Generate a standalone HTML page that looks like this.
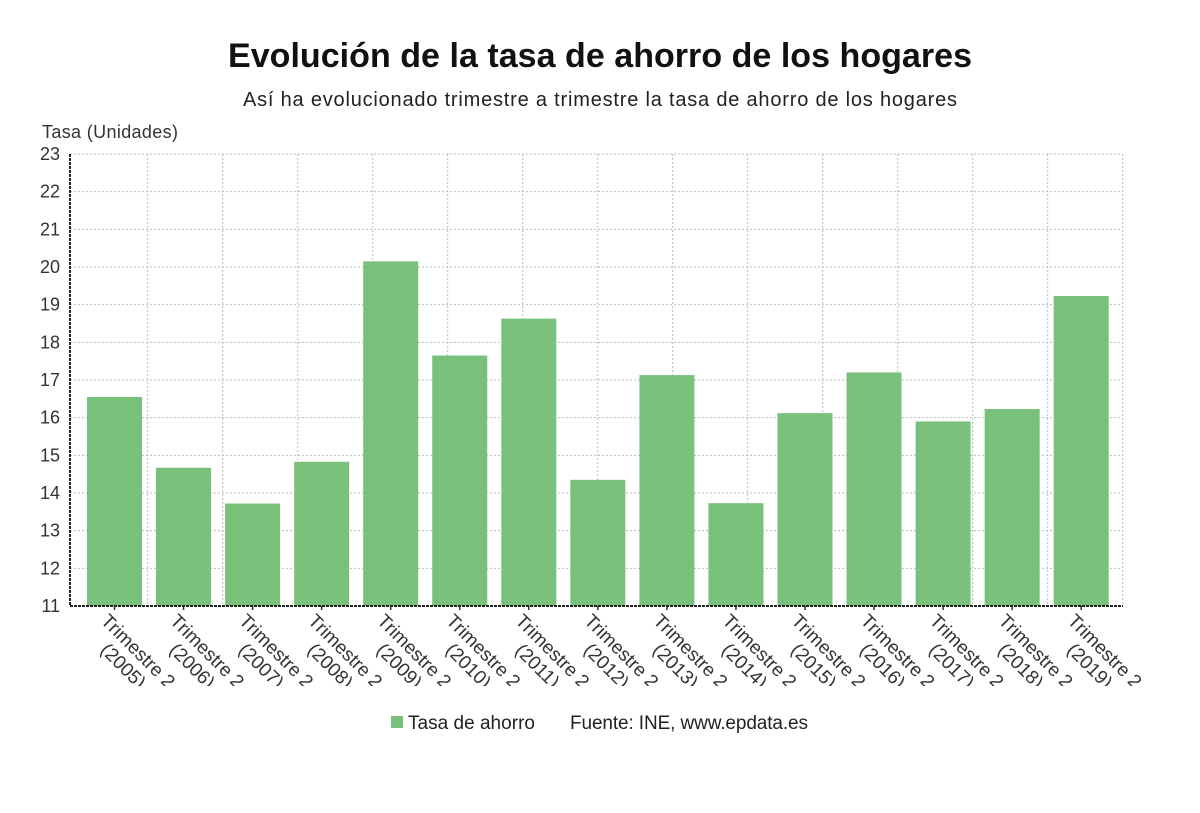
<!DOCTYPE html>
<html><head><meta charset="utf-8"><style>
body{margin:0;background:#fff;width:1200px;height:808px;overflow:hidden;font-family:"Liberation Sans",sans-serif;}
</style></head><body>
<svg width="1200" height="808" xmlns="http://www.w3.org/2000/svg">
<defs><clipPath id="lc"><rect x="0" y="606" width="1200" height="80"/></clipPath></defs>
<text x="600" y="67" text-anchor="middle" font-size="34" font-weight="bold" fill="#111" textLength="744">Evolución de la tasa de ahorro de los hogares</text>
<text x="600" y="106" text-anchor="middle" font-size="20" fill="#222" textLength="714">Así ha evolucionado trimestre a trimestre la tasa de ahorro de los hogares</text>
<text x="42" y="138" font-size="18" fill="#333" textLength="136">Tasa (Unidades)</text>
<g id="grid"></g>
<g id="bars"></g>
<g id="axes"></g>
<g id="xl" clip-path="url(#lc)"></g>
<rect x="391" y="716" width="12" height="12" fill="#79c07b"/>
<text x="408" y="729" font-size="19" fill="#222" textLength="127">Tasa de ahorro</text>
<text x="570" y="729" font-size="19" fill="#222" textLength="238">Fuente: INE, www.epdata.es</text>
</svg>
<script>
const categories=["2005","2006","2007","2008","2009","2010","2011","2012","2013","2014","2015","2016","2017","2018","2019"];
const values=[16.55,14.67,13.72,14.83,20.15,17.65,18.63,14.35,17.13,13.73,16.12,17.2,15.9,16.23,19.23];
const yTicks=[11,12,13,14,15,16,17,18,19,20,21,22,23];
const NS="http://www.w3.org/2000/svg";
const x0=70,x1=1122,yTop=154,yBot=606,yMin=11,yMax=23;
const y=v=>yBot-(v-yMin)/(yMax-yMin)*(yBot-yTop);
const pitch=69.05,bw=55,bStart=87;
const xc=i=>bStart+bw/2+i*pitch;
function mk(t,a,p){const e=document.createElementNS(NS,t);for(const k in a)e.setAttribute(k,a[k]);p.appendChild(e);return e;}
const grid=document.getElementById('grid'),bars=document.getElementById('bars'),axes=document.getElementById('axes'),xl=document.getElementById('xl');
yTicks.forEach(t=>{
 const l=mk('line',{x1:x0,x2:x1,y1:y(t),y2:y(t),stroke:'#bbb','stroke-dasharray':'2,2'},grid);
 
 
 const tx=mk('text',{x:60,y:y(t)+6,'text-anchor':'end','font-size':18,fill:'#333'},axes);
 tx.textContent=t;
 
 
});
for(let gx=147.7;gx<=x1+1;gx+=75){
 const l=mk('line',{x1:gx,x2:gx,y1:yTop,y2:yBot,stroke:'#bbb','stroke-dasharray':'2,2'},grid);
 
 
}
values.forEach((v,i)=>{
 const r=mk('rect',{x:xc(i)-bw/2,y:y(v),width:bw,height:yBot-y(v),fill:'#79c07b'},bars);
 
 
 const tk=mk('line',{x1:xc(i),x2:xc(i),y1:yBot,y2:yBot+4,stroke:'#333','stroke-width':1.5},axes);
 
 
 const g=mk('g',{transform:`translate(${xc(i)-12},${yBot+10}) rotate(45)`},xl);
 
 
 const t1=mk('text',{x:50,y:6,'text-anchor':'middle','font-size':19,fill:'#333'},g);
 t1.textContent='Trimestre 2';
 const t2=mk('text',{x:50,y:27,'text-anchor':'middle','font-size':19,fill:'#333'},g);
 t2.textContent='('+categories[i]+')';
});
const ax=mk('line',{x1:x0,x2:x1+1,y1:yBot,y2:yBot,stroke:'#222','stroke-width':2,'stroke-dasharray':'3,1'},axes);


const ay=mk('line',{x1:x0,x2:x0,y1:yTop,y2:yBot,stroke:'#222','stroke-width':2,'stroke-dasharray':'3,1'},axes);


</script>
</body></html>
